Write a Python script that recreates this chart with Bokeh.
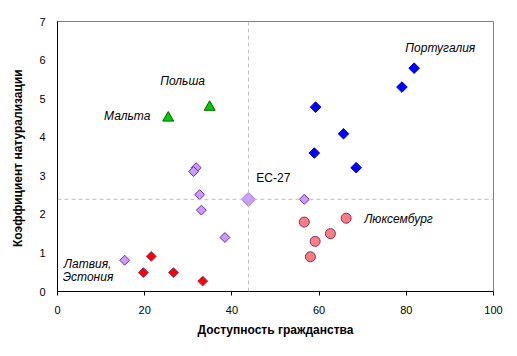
import math
from bokeh.plotting import figure
from bokeh.models import Span, Range1d, FixedTicker, Label
from bokeh.embed import file_html
from bokeh.resources import INLINE

# Group data (x = access to citizenship, y = naturalisation rate)
blue_x = [81.8, 79.0, 59.2, 65.6, 58.9, 68.5]
blue_y = [5.79, 5.30, 4.78, 4.09, 3.59, 3.21]

green_x = [25.4, 34.9]
green_y = [4.50, 4.78]

purple_x = [31.8, 31.2, 32.6, 33.0, 38.4, 15.4, 56.6]
purple_y = [3.21, 3.11, 2.51, 2.11, 1.40, 0.81, 2.39]

red_x = [21.5, 19.7, 26.6, 33.3]
red_y = [0.91, 0.49, 0.49, 0.27]

salmon_x = [66.2, 56.6, 62.6, 59.1, 58.0]
salmon_y = [1.90, 1.80, 1.50, 1.30, 0.90]

eu_x = [43.8]
eu_y = [2.39]

label_texts = ["Португалия", "Люксембург", "Польша", "Мальта", "Латвия,", "Эстония"]
label_x = [87.8, 78.2, 28.7, 16.0, 6.9, 7.0]
label_y = [6.31, 1.87, 5.47, 4.55, 0.72, 0.38]

eu_label = "ЕС-27"
eu_label_x = 49.5
eu_label_y = 2.94

x_ticks = [0, 20, 40, 60, 80, 100]
y_ticks = [0, 1, 2, 3, 4, 5, 6, 7]

FONT = "Liberation Sans"

p = figure(width=517, height=356, output_backend="svg", toolbar_location=None,
           x_range=Range1d(0, 100), y_range=Range1d(0, 7))
p.min_border_left = 57
p.min_border_right = 24
p.min_border_top = 21
p.min_border_bottom = 65
p.background_fill_color = "white"
p.border_fill_color = "white"
p.outline_line_color = "#808080"
p.outline_line_width = 1
p.xgrid.visible = False
p.ygrid.visible = False

# axes
p.xaxis.ticker = FixedTicker(ticks=x_ticks)
p.yaxis.ticker = FixedTicker(ticks=y_ticks)
for ax in (p.xaxis[0], p.yaxis[0]):
    ax.axis_line_color = "black"
    ax.axis_line_width = 1
    ax.minor_tick_line_color = None
    ax.major_label_text_font = FONT
    ax.major_label_text_font_size = "11px"
    ax.major_label_text_color = "black"
    ax.axis_label_text_font = FONT
    ax.axis_label_text_font_size = "12px"
    ax.axis_label_text_font_style = "bold"
    ax.axis_label_text_color = "black"

p.xaxis.axis_label = "Доступность гражданства"
p.xaxis.major_tick_out = 4
p.xaxis.major_tick_in = 0
p.xaxis.major_tick_line_color = "black"
p.xaxis.major_label_standoff = 10
p.xaxis.axis_label_standoff = 6

p.yaxis.axis_label = "Коэффициент  натурализации"
p.yaxis.major_tick_out = 0
p.yaxis.major_tick_in = 0
p.yaxis.major_label_standoff = 12
p.yaxis.axis_label_standoff = 11

# reference dashed lines through EU-27
p.add_layout(Span(location=eu_x[0], dimension="height", line_color="#BFBFBF",
                  line_dash="4 3", line_width=1))
p.add_layout(Span(location=eu_y[0], dimension="width", line_color="#BFBFBF",
                  line_dash="4 3", line_width=1))

ang = math.pi / 4
p.scatter(purple_x, purple_y, marker="square", size=7, angle=ang,
          fill_color="#CC99FF", line_color="#7030A0", line_width=1)
p.scatter(red_x, red_y, marker="square", size=7, angle=ang,
          fill_color="#FF0000", line_color="#993366", line_width=1)
p.scatter(blue_x, blue_y, marker="square", size=7.5, angle=ang,
          fill_color="#0000FF", line_color="#0000CC", line_width=1)
p.scatter(salmon_x, salmon_y, marker="circle", size=10,
          fill_color="#FF7C80", line_color="#7F2F6F", line_width=1)
p.scatter(green_x, green_y, marker="triangle", size=11,
          fill_color="#00CC00", line_color="#006600", line_width=1)
p.scatter(eu_x, eu_y, marker="square", size=10, angle=ang,
          fill_color="#CC99FF", line_color="#B080E0", line_width=1)

for t, lx, ly in zip(label_texts, label_x, label_y):
    p.add_layout(Label(x=lx, y=ly, text=t, text_font=FONT, text_font_size="12px",
                       text_font_style="italic", text_color="black",
                       text_align="center", text_baseline="middle"))
p.add_layout(Label(x=eu_label_x, y=eu_label_y, text=eu_label, text_font=FONT,
                   text_font_size="12px", text_color="black",
                   text_align="center", text_baseline="middle"))

open("out.html", "w").write(file_html(p, INLINE))
